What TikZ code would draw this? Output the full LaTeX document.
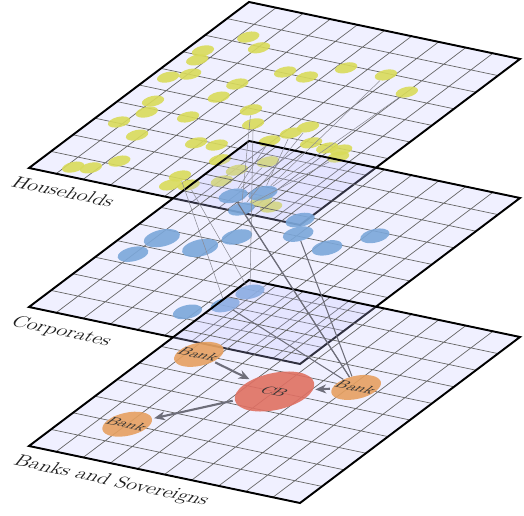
\documentclass[tikz,border=0pt]{standalone}
\usepackage{tikz}
\usetikzlibrary{arrows.meta}
\definecolor{planebg}{HTML}{F0F0FF}
\definecolor{planetint}{HTML}{C3C3FF}
\definecolor{household}{HTML}{D9DB5A}
\definecolor{corporate}{HTML}{7BA7DA}
\definecolor{bank}{HTML}{E6A060}
\definecolor{central}{HTML}{E07062}
\definecolor{linkgray}{HTML}{6E6E7A}
\definecolor{dark}{HTML}{1F1F1F}
\tikzset{
    % Layer transform (plane coordinates 0..5)
    layer/.style={cm={1.084,-0.228,0.88,0.664,(0.58cm,#1)}},
    % Plane styles
    grid line/.style={draw=black!60, line width=0.4pt},
    plane border/.style={draw=black, line width=1.1pt},
    % Agent styles
    agent/.style={
        circle,
        inner sep=0pt,
        transform shape,
        fill=#1,
        fill opacity=0.9,
        text opacity=1,
        minimum size=0.44cm
    },
    hh/.style={agent=household, minimum size=0.32cm},
    corp/.style={agent=corporate},
    banknode/.style={agent=bank, minimum size=0.7cm, font=\footnotesize, text=black!80},
    cbnode/.style={agent=central, minimum size=1.14cm, font=\footnotesize, text=black!80},
    % Label style
    layer label/.style={
        anchor=north west,
        font=\large,
        text=dark,
        rotate=-11.9,
        xslant=0.5,
        yscale=0.8
    },
    % Connector styles
    link/.style={draw=linkgray!80, line width=0.3pt},
    strong link/.style={draw=linkgray, line width=0.6pt},
    flow/.style={
        -{Stealth[length=2.2mm, width=1.8mm]},
        line width=1.2pt,
        draw=linkgray,
        shorten <=1pt,
        shorten >=1pt
    }
}
\begin{document}
\begin{tikzpicture}
    \useasboundingbox (0,0) rectangle (10.48,10.3);

    % Households
    \begin{scope}[layer=6.94cm]
        \fill[planebg] (0,0) rectangle (5,5);
        \draw[grid line] (0,0) grid[step=0.5] (5,5);
        \draw[plane border] (0,0) rectangle (5,5);
        \foreach \px/\py [count=\i] in {0.66/4.17, 1.02/3.97, 0.27/3.62, 0.36/3.38, 0.27/2.83,
            0.53/3.01, 1.86/3.53, 2.27/3.52, 2.66/3.93, 3.37/3.96, 4.00/3.66, 1.40/3.01,
            1.38/2.61, 0.51/2.19, 0.63/1.90, 1.32/1.99, 2.09/2.47, 0.42/1.53, 0.93/1.31,
            2.39/2.15, 3.24/2.35, 3.11/2.12, 2.95/1.83, 1.93/1.42, 2.27/1.47, 3.59/1.99,
            3.92/1.95, 4.16/1.97, 4.25/1.79, 1.17/0.61, 0.62/0.24, 0.89/0.31, 2.60/1.14,
            2.33/0.56, 2.36/0.30, 2.63/0.39, 3.33/1.33, 3.04/0.98, 3.03/0.65, 3.98/0.37,
            4.24/0.28}
            \node[hh] (h\i) at (\px,\py) {};
        \node[layer label] (lblh) at (-0.15,-0.12) {Households};
    \end{scope}

    % Corporates
    \begin{scope}[layer=4.16cm]
        \fill[planetint, fill opacity=0.25] (0,0) rectangle (5,5);
        \draw[grid line] (0,0) grid[step=0.5] (5,5);
        \draw[plane border] (0,0) rectangle (5,5);
        \foreach \px/\py/\sz [count=\i] in {0.60/2.28/0.52, 0.49/1.76/0.44, 1.34/2.24/0.52,
            1.66/2.68/0.44, 2.49/3.05/0.44, 3.17/2.87/0.44, 3.63/3.39/0.42, 2.25/3.39/0.42,
            0.82/3.63/0.42, 1.20/3.84/0.42, 1.19/3.36/0.38, 2.90/1.45/0.42, 2.79/1.02/0.42,
            2.38/0.67/0.42}
            \node[corp, minimum size=\sz cm] (c\i) at (\px,\py) {};
        \node[layer label] (lblc) at (-0.15,-0.12) {Corporates};
    \end{scope}

    % Banks and Sovereigns
    \begin{scope}[layer=1.38cm]
        \fill[planetint, fill opacity=0.25] (0,0) rectangle (5,5);
        \draw[grid line] (0,0) grid[step=0.5] (5,5);
        \draw[plane border] (0,0) rectangle (5,5);
        \node[banknode] (btl) at (0.7,3) {Bank};
        \node[cbnode] (cb) at (2.5,2.5) {CB};
        \node[banknode] (br) at (3.6,3) {Bank};
        \node[banknode] (bbl) at (1,1) {Bank};
        \node[layer label] (lblb) at (-0.1,-0.12) {Banks and Sovereigns};
    \end{scope}

    % Connections between layers
    \draw[link] (h20) -- (c12);
    \draw[link] (h17) -- (c11);
    \draw[link] (h23) -- (c9);
    \draw[link] (h37) -- (c9);
    \draw[link] (h22) -- (c10);
    \draw[link] (h21) -- (c11);
    \draw[link] (h10) -- (c10);
    \draw[link] (h11) -- (c10);
    \draw[link] (h29) -- (c11);
    \draw[link] (h36) -- (c12);
    \draw[link] (h34) -- (c13);
    \draw[strong link] (c9) -- (br);
    \draw[strong link] (c11) -- (br);
    \draw[strong link] (c5) -- (br);
    \draw[strong link] (c13) -- (br);

    % Flows between banks
    \draw[flow] (btl) -- (cb);
    \draw[flow] (br) -- (cb);
    \draw[flow] (cb) -- (bbl);

\end{tikzpicture}
\end{document}
